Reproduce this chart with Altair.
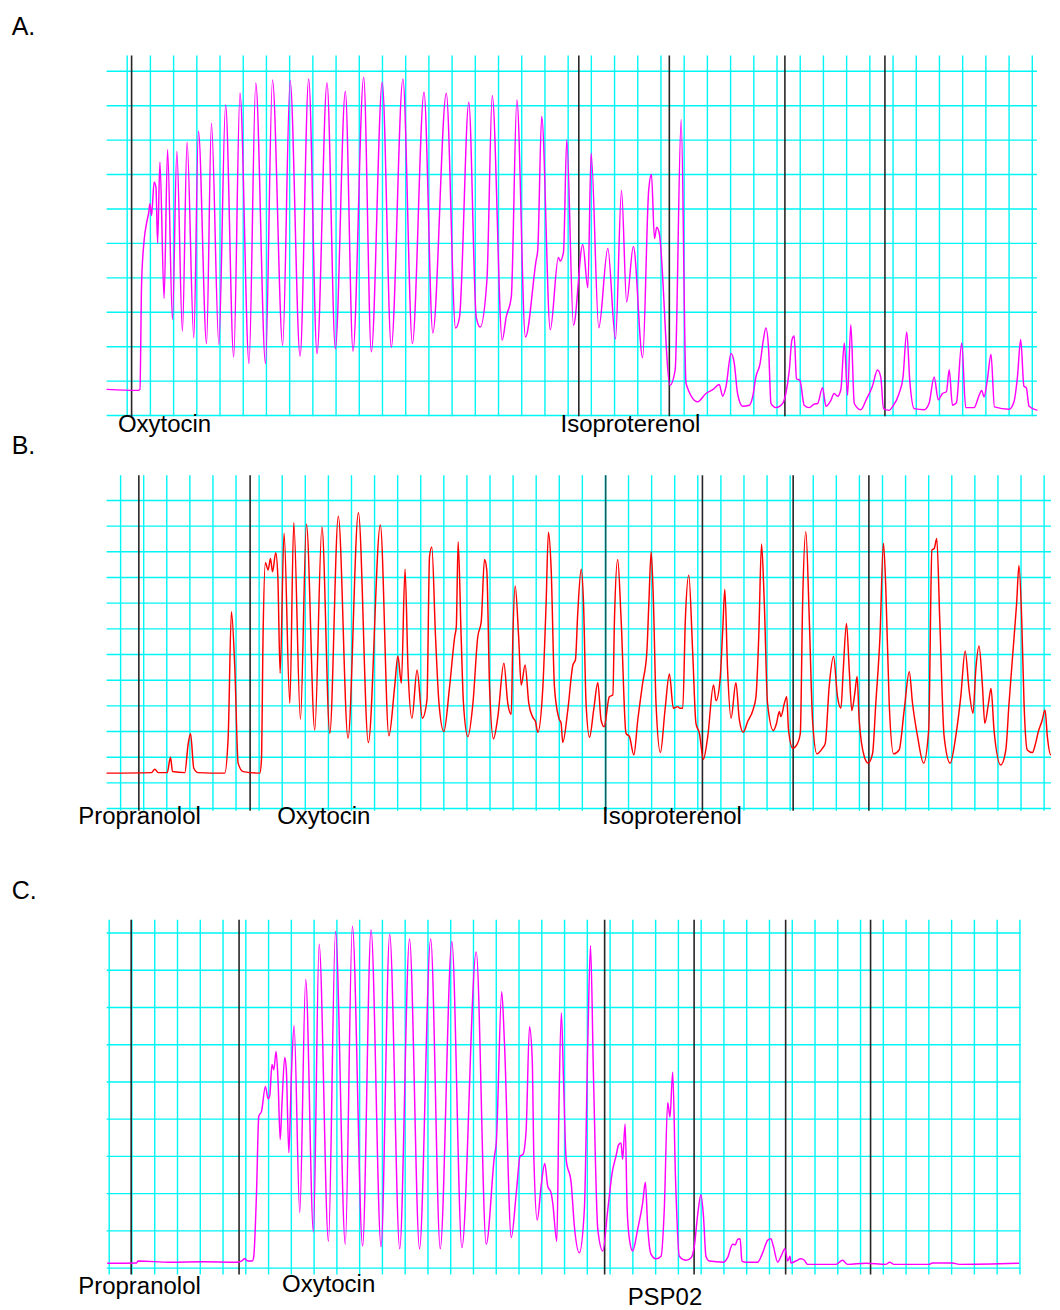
import altair as alt
import pandas as pd

# ---------------- Panel A (oxytocin, then isoproterenol) ----------------
a_time = [-0.89, 0.47, 0.55, 0.62, 0.73, 0.83, 0.93, 0.98, 1.05, 1.16, 1.24, 1.31, 1.41, 1.59, 1.74, 1.95,
          2.14, 2.38, 2.58, 2.87, 3.07, 3.42, 3.63, 3.95, 4.24, 4.59, 4.86, 5.25, 5.54, 5.96, 6.26, 6.70,
          7.02, 7.45, 7.82, 8.18, 8.61, 8.97, 9.40, 9.73, 10.19, 10.52, 10.99, 11.38, 11.88, 12.29, 12.79,
          13.17, 13.75, 14.15, 14.32, 14.72, 15.04, 15.21, 15.50, 15.73, 16.16, 16.33, 16.55, 16.79, 17.16,
          17.62, 17.69, 17.86, 18.23, 18.58, 18.66, 18.80, 18.94, 19.23, 19.63, 19.85, 19.99, 20.32, 20.71,
          21.04, 21.30, 21.52, 21.81, 22.21, 22.47, 22.59, 22.72, 22.82, 22.93, 23.39, 23.61, 23.87, 24.08,
          24.58, 24.94, 25.23, 25.51, 25.66, 25.80, 26.02, 26.16, 26.30, 26.52, 26.81, 26.95, 27.09, 27.27,
          27.41, 27.52, 27.64, 27.74, 27.95, 28.24, 28.38, 28.53, 28.64, 28.74, 28.84, 28.99, 29.17, 29.39,
          29.60, 29.75, 29.96, 30.11, 30.32, 30.46, 30.61, 30.75, 30.90, 31.04, 31.18, 31.33, 31.61, 31.83,
          32.11, 32.33, 32.47, 32.59, 32.83, 32.97, 33.26, 33.43, 33.59, 33.72, 33.91, 34.34, 34.55, 34.77,
          34.95, 35.13, 35.30, 35.42, 35.56, 35.73, 35.96, 36.13, 36.49, 36.71, 36.82, 36.92, 37.06, 37.22,
          37.37, 38.00, 38.21, 38.36, 38.50, 38.64, 38.74, 38.86, 39.22]
a_tension = [0.76, 0.73, 0.76, 3.83, 5.09, 5.57, 5.91, 6.15, 5.81, 6.78, 6.63, 5.01, 7.36, 3.40, 7.72, 2.79,
             7.67, 2.45, 7.94, 2.26, 8.26, 2.09, 8.49, 2.07, 9.03, 1.70, 9.37, 1.51, 9.66, 1.51, 9.75, 2.04,
             9.73, 1.72, 9.78, 1.80, 9.67, 1.94, 9.42, 1.87, 9.83, 1.85, 9.68, 1.99, 9.78, 2.09, 9.39,
             2.40, 9.36, 2.54, 2.86, 9.10, 2.86, 2.57, 3.93, 9.29, 2.19, 2.86, 3.44, 9.17, 2.28,
             4.51, 4.80, 8.69, 2.49, 4.59, 4.49, 4.75, 8.01, 2.62, 4.97, 3.71, 7.62, 2.55, 4.85,
             2.22, 6.54, 3.30, 4.91, 1.68, 6.54, 7.00, 5.14, 5.47, 5.28, 0.88, 1.31, 8.60, 0.93,
             0.40, 0.64, 0.75, 0.90, 0.56, 0.83, 1.80, 1.51, 0.64, 0.27, 0.30, 0.54, 1.12, 1.51,
             2.19, 2.54, 1.90, 0.35, 0.23, 0.35, 0.64, 1.32, 2.19, 2.31, 1.07, 1.02, 0.30, 0.23,
             0.33, 0.35, 0.81, 0.27, 0.44, 0.64, 0.56, 0.75, 2.11, 0.59, 2.64, 0.35, 0.17, 0.44,
             0.85, 1.32, 1.12, 0.20, 0.15, 0.25, 0.64, 1.12, 2.43, 1.02, 0.20, 0.17, 0.35, 1.12,
             0.46, 0.64, 0.69, 1.33, 0.30, 0.37, 2.11, 0.23, 0.23, 0.59, 0.73, 0.54, 1.02, 1.78,
             0.25, 0.18, 0.40, 1.12, 2.21, 0.85, 0.81, 0.27, 0.15]
a_events = [0.19, 19.46, 23.36, 28.34, 32.65]
a_label_text = ["Oxytocin", "Isoproterenol"]
a_label_time = [-0.40, 18.67]
a_label_level = [-0.48, -0.48]

# ---------------- Panel B (propranolol, oxytocin, isoproterenol) ----------------
b_time = [-0.61, 1.34, 1.48, 1.63, 2.02, 2.16, 2.25, 2.78, 2.93, 3.03, 3.17, 3.36, 4.51, 4.66, 4.80, 4.95,
          5.09, 5.31, 6.03, 6.10, 6.17, 6.27, 6.39, 6.49, 6.58, 6.72, 6.81, 6.91, 7.08, 7.33, 7.50, 7.79,
          8.05, 8.41, 8.72, 9.06, 9.43, 9.85, 10.30, 10.73, 11.25, 11.62, 11.87, 12.01, 12.16, 12.32, 12.45,
          12.62, 12.84, 13.07, 13.27, 13.38, 13.48, 13.64, 13.79, 14.00, 14.25, 14.47, 14.54, 14.62, 14.75,
          14.85, 15.04, 15.26, 15.47, 15.62, 15.76, 15.86, 15.98, 16.15, 16.34, 16.60, 16.77, 16.92, 16.99,
          17.09, 17.24, 17.35, 17.52, 17.68, 17.85, 17.97, 18.07, 18.29, 18.43, 18.53, 18.65, 18.79, 18.98,
          19.08, 19.15, 19.37, 19.59, 19.70, 19.80, 19.95, 20.05, 20.16, 20.31, 20.49, 20.67, 20.81, 20.94,
          21.17, 21.32, 21.39, 21.53, 21.68, 21.89, 22.04, 22.23, 22.40, 22.61, 22.79, 22.88, 22.98, 23.08,
          23.19, 23.38, 23.58, 23.77, 23.94, 24.13, 24.23, 24.35, 24.46, 24.61, 24.78, 24.92, 25.07, 25.24,
          25.43, 25.68, 25.79, 25.96, 26.08, 26.17, 26.29, 26.44, 26.65, 26.80, 26.97, 27.16, 27.39, 27.52,
          27.64, 27.76, 27.88, 28.02, 28.27, 28.41, 28.53, 28.60, 28.75, 28.85, 28.93, 29.11, 29.32, 29.44,
          29.54, 29.68, 29.83, 29.97, 30.16, 30.40, 30.52, 30.69, 30.88, 31.05, 31.20, 31.30, 31.44, 31.56,
          31.67, 31.80, 31.90, 31.99, 32.21, 32.38, 32.57, 32.71, 32.89, 33.04, 33.14, 33.29, 33.48, 33.72,
          33.94, 34.16, 34.30, 34.52, 34.78, 35.00, 35.14, 35.24, 35.35, 35.48, 35.67, 35.93, 36.17, 36.39,
          36.58, 36.75, 36.92, 37.04, 37.18, 37.33, 37.43, 37.59, 37.70, 37.83, 38.12, 38.34, 38.48, 38.70,
          38.81, 38.91, 39.03, 39.13, 39.27, 39.49, 39.63, 39.75, 39.90, 40.04, 40.14, 40.29, 40.47, 40.65]
b_tension = [1.38, 1.40, 1.53, 1.40, 1.40, 2.00, 1.44, 1.40, 2.54, 2.91, 1.57, 1.40, 1.38, 2.80, 7.67, 5.40,
             1.77, 1.44, 1.38, 1.89, 6.69, 9.57, 9.29, 9.74, 9.22, 9.96, 9.03, 5.27, 10.72, 4.10, 11.13, 3.48,
             11.07, 3.06, 10.97, 2.93, 11.39, 2.74, 11.52, 2.57, 11.04, 2.83, 4.75, 5.94, 4.88, 9.32, 5.40,
             3.52, 5.40, 3.52, 4.23, 9.81, 10.19, 6.69, 4.10, 3.00, 4.75, 6.69, 7.08, 10.39, 6.69,
             4.10, 2.80, 4.10, 6.69, 7.28, 9.70, 9.29, 4.75, 2.72, 3.58, 5.66, 4.10, 3.67, 6.69,
             8.67, 6.69, 4.81, 5.59, 4.10, 3.56, 3.39, 2.97, 4.75, 8.00, 10.76, 9.29, 4.75, 3.52,
             3.32, 2.57, 3.84, 5.59, 5.79, 7.61, 9.32, 8.00, 4.10, 2.78, 3.84, 4.90, 3.45, 3.19,
             4.36, 4.42, 7.34, 9.70, 7.34, 2.93, 2.80, 2.09, 3.45, 4.88, 6.05, 8.00, 10.00, 8.00,
             4.10, 2.18, 3.84, 5.24, 3.91, 3.97, 3.91, 3.91, 7.34, 9.09, 6.05, 3.32, 2.93, 1.92,
             2.80, 4.81, 4.20, 4.97, 6.95, 8.54, 5.40, 3.52, 4.90, 3.45, 2.97, 3.39, 3.84, 4.36,
             6.69, 10.30, 8.00, 4.10, 3.04, 3.32, 3.78, 3.58, 4.10, 4.36, 3.06, 2.35, 2.54, 2.93,
             8.00, 10.78, 7.34, 3.45, 2.13, 2.35, 2.54, 4.75, 5.92, 4.36, 3.91, 5.40, 7.21, 5.40,
             3.82, 4.49, 5.14, 3.45, 2.03, 1.77, 2.15, 4.10, 6.69, 10.33, 8.66, 4.10, 2.13, 2.28,
             3.84, 5.33, 4.10, 2.80, 1.77, 3.06, 10.07, 10.13, 10.52, 7.34, 2.80, 1.77, 2.80, 4.36,
             6.14, 4.62, 3.71, 5.40, 6.33, 4.75, 3.32, 4.10, 4.68, 3.06, 1.70, 2.28, 4.10, 6.69,
             8.00, 9.47, 7.34, 4.10, 2.28, 2.18, 2.54, 3.00, 3.39, 3.84, 2.80, 2.09, 2.41, 4.03]
b_events = [0.79, 5.61, 25.20, 29.13, 32.41]
b_iso_event = [21.01]
b_label_text = ["Propranolol", "Oxytocin", "Isoproterenol"]
b_label_time = [-1.835, 6.78, 20.85]
b_label_level = [-0.62, -0.62, -0.62]

# ---------------- Panel C (propranolol, oxytocin, PSP02) ----------------
c_time = [-0.09, 1.20, 1.27, 2.66, 4.12, 5.59, 5.81, 5.95, 6.10, 6.29, 6.35, 6.47, 6.57, 6.69, 6.86, 6.98,
          7.05, 7.15, 7.23, 7.33, 7.42, 7.51, 7.59, 7.71, 7.78, 7.89, 8.00, 8.12, 8.37, 8.63, 8.97, 9.22,
          9.63, 9.94, 10.37, 10.68, 11.13, 11.50, 11.94, 12.32, 12.76, 13.19, 13.63, 14.12, 14.54, 15.05,
          15.49, 16.12, 16.56, 16.92, 17.00, 17.24, 17.36, 17.66, 17.88, 18.05, 18.17, 18.31, 18.46, 18.58,
          18.65, 18.80, 18.97, 19.13, 19.26, 19.41, 19.48, 19.66, 19.75, 19.86, 19.95, 20.07, 20.29, 20.43,
          20.65, 20.87, 21.02, 21.14, 21.27, 21.46, 21.68, 21.90, 22.09, 22.26, 22.38, 22.48, 22.55, 22.66,
          22.75, 22.85, 22.99, 23.21, 23.43, 23.55, 23.65, 23.80, 24.02, 24.24, 24.38, 24.53, 24.63, 24.75,
          24.87, 25.04, 25.34, 25.56, 25.70, 25.84, 25.99, 26.10, 26.21, 26.36, 26.99, 27.16, 27.38, 27.50,
          27.60, 27.71, 27.79, 27.97, 28.48, 28.70, 28.92, 29.06, 29.17, 29.36, 29.51, 29.68, 29.80, 29.90,
          29.94, 30.16, 30.38, 30.53, 30.67, 31.92, 32.21, 32.43, 33.23, 34.11, 34.28, 34.47, 36.01, 36.16,
          37.03, 37.33, 39.96]
c_tension = [0.13, 0.14, 0.19, 0.16, 0.17, 0.16, 0.19, 0.25, 0.19, 0.19, 0.32, 2.02, 4.08, 4.21, 4.88, 4.55,
             4.62, 5.47, 5.33, 5.82, 4.97, 3.45, 4.44, 5.66, 5.33, 3.10, 5.15, 6.51, 1.49, 7.75, 0.97, 8.70,
             0.72, 9.04, 0.64, 9.18, 0.59, 9.09, 0.57, 8.97, 0.52, 8.84, 0.52, 8.84, 0.52, 8.77,
             0.55, 8.49, 0.64, 3.01, 3.36, 7.42, 6.05, 0.82, 2.02, 3.01, 3.05, 3.68, 6.48, 5.60,
             3.01, 1.29, 2.20, 2.81, 2.20, 2.02, 1.75, 0.72, 4.26, 6.85, 5.15, 2.92, 2.29, 1.13,
             0.41, 1.58, 6.05, 8.66, 5.15, 1.04, 0.46, 1.58, 2.56, 3.01, 3.32, 3.36, 2.92, 3.87,
             1.58, 0.77, 0.46, 1.04, 1.75, 2.31, 1.13, 0.37, 0.25, 0.32, 1.58, 4.45, 4.06, 5.26,
             2.47, 0.32, 0.21, 0.28, 0.59, 1.40, 1.97, 1.40, 0.32, 0.19, 0.16, 0.28, 0.64, 0.63,
             0.77, 0.79, 0.19, 0.16, 0.16, 0.41, 0.75, 0.79, 0.59, 0.16, 0.32, 0.52, 0.19, 0.32,
             0.14, 0.19, 0.25, 0.21, 0.10, 0.10, 0.21, 0.10, 0.13, 0.10, 0.16, 0.10, 0.10, 0.14,
             0.14, 0.10, 0.13]
c_events = [0.965, 5.704, 21.76, 25.69, 29.71, 33.44]
c_label_text = ["Propranolol", "Oxytocin", "PSP02"]
c_label_time = [-1.36, 7.59, 22.77]
c_label_level = [-0.70, -0.64, -1.00]

panel_letters = ["A.", "B.", "C."]

CYAN = "#00F5F5"
FONT = "Liberation Sans"
W = 1044


def panel(time, tension, color, events, lab_text, lab_time, lab_level,
          letter, letter_pos, xdom, ydom, n_vgrid, n_hgrid, hx, vy, height,
          extra_events=None, extra_color="#0b5f5f"):
    xs = alt.Scale(domain=xdom, nice=False, zero=False)
    ys = alt.Scale(domain=ydom, nice=False, zero=False)

    hgrid = pd.DataFrame({"y": list(range(n_hgrid + 1)),
                          "x0": [hx[0]] * (n_hgrid + 1), "x1": [hx[1]] * (n_hgrid + 1)})
    vgrid = pd.DataFrame({"x": list(range(n_vgrid + 1)),
                          "y0": [vy[0]] * (n_vgrid + 1), "y1": [vy[1]] * (n_vgrid + 1)})
    ev = pd.DataFrame({"x": events, "y0": [vy[0]] * len(events), "y1": [vy[1]] * len(events)})
    trace = pd.DataFrame({"t": time, "v": tension})
    labs = pd.DataFrame({"t": lab_time, "v": lab_level, "label": lab_text})
    let = pd.DataFrame({"t": [letter_pos[0]], "v": [letter_pos[1]], "label": [letter]})

    h = alt.Chart(hgrid).mark_rule(color=CYAN, strokeWidth=1.4).encode(
        x=alt.X("x0:Q", scale=xs, axis=None), x2="x1:Q",
        y=alt.Y("y:Q", scale=ys, axis=None))
    v = alt.Chart(vgrid).mark_rule(color=CYAN, strokeWidth=1.4).encode(
        x=alt.X("x:Q", scale=xs, axis=None),
        y=alt.Y("y0:Q", scale=ys, axis=None), y2="y1:Q")
    e = alt.Chart(ev).mark_rule(color="#262626", strokeWidth=1.6).encode(
        x=alt.X("x:Q", scale=xs, axis=None),
        y=alt.Y("y0:Q", scale=ys, axis=None), y2="y1:Q")
    layers = [h, v, e]
    if extra_events:
        ev2 = pd.DataFrame({"x": extra_events, "y0": [vy[0]] * len(extra_events),
                            "y1": [vy[1]] * len(extra_events)})
        layers.append(alt.Chart(ev2).mark_rule(color=extra_color, strokeWidth=1.6).encode(
            x=alt.X("x:Q", scale=xs, axis=None),
            y=alt.Y("y0:Q", scale=ys, axis=None), y2="y1:Q"))
    tr = alt.Chart(trace).mark_line(color=color, strokeWidth=1.45, interpolate="monotone",
                                    clip=True).encode(
        x=alt.X("t:Q", scale=xs, axis=None),
        y=alt.Y("v:Q", scale=ys, axis=None))
    tx = alt.Chart(labs).mark_text(align="left", baseline="alphabetic", fontSize=24,
                                   font=FONT, color="black").encode(
        x=alt.X("t:Q", scale=xs, axis=None),
        y=alt.Y("v:Q", scale=ys, axis=None), text="label:N")
    lt = alt.Chart(let).mark_text(align="left", baseline="alphabetic", fontSize=25,
                                  font=FONT, color="black").encode(
        x=alt.X("t:Q", scale=xs, axis=None),
        y=alt.Y("v:Q", scale=ys, axis=None), text="label:N")
    layers += [tr, tx, lt]
    return alt.layer(*layers).properties(width=W, height=height)


pA = panel(a_time, a_tension, "#FF00FF", a_events, a_label_text, a_label_time, a_label_level,
           panel_letters[0], (-4.976, 11.056), [-5.136, 39.806], [-0.717, 11.820],
           39, 10, (-0.887, 39.20), (-0.02, 10.456), 432)
pB = panel(b_time, b_tension, "#FF0000", b_events, b_label_text, b_label_time, b_label_level,
           panel_letters[1], (-4.717, 13.79), [-4.877, 40.298], [-2.774, 14.346],
           40, 12, (-0.606, 40.298), (-0.09, 12.984), 440, extra_events=b_iso_event)
pC = panel(c_time, c_tension, "#FF00FF", c_events, c_label_text, c_label_time, c_label_level,
           panel_letters[2], (-4.283, 9.91), [-4.445, 41.365], [-0.8935, 10.429],
           40, 9, (-0.114, 40.035), (-0.169, 9.356), 422)

chart = alt.vconcat(pA, pB, pC, spacing=0, bounds="flush").properties(
    padding=0, background="white"
).configure_view(stroke=None)

chart.save("out.html", embed_options={"renderer": "svg", "actions": False})
